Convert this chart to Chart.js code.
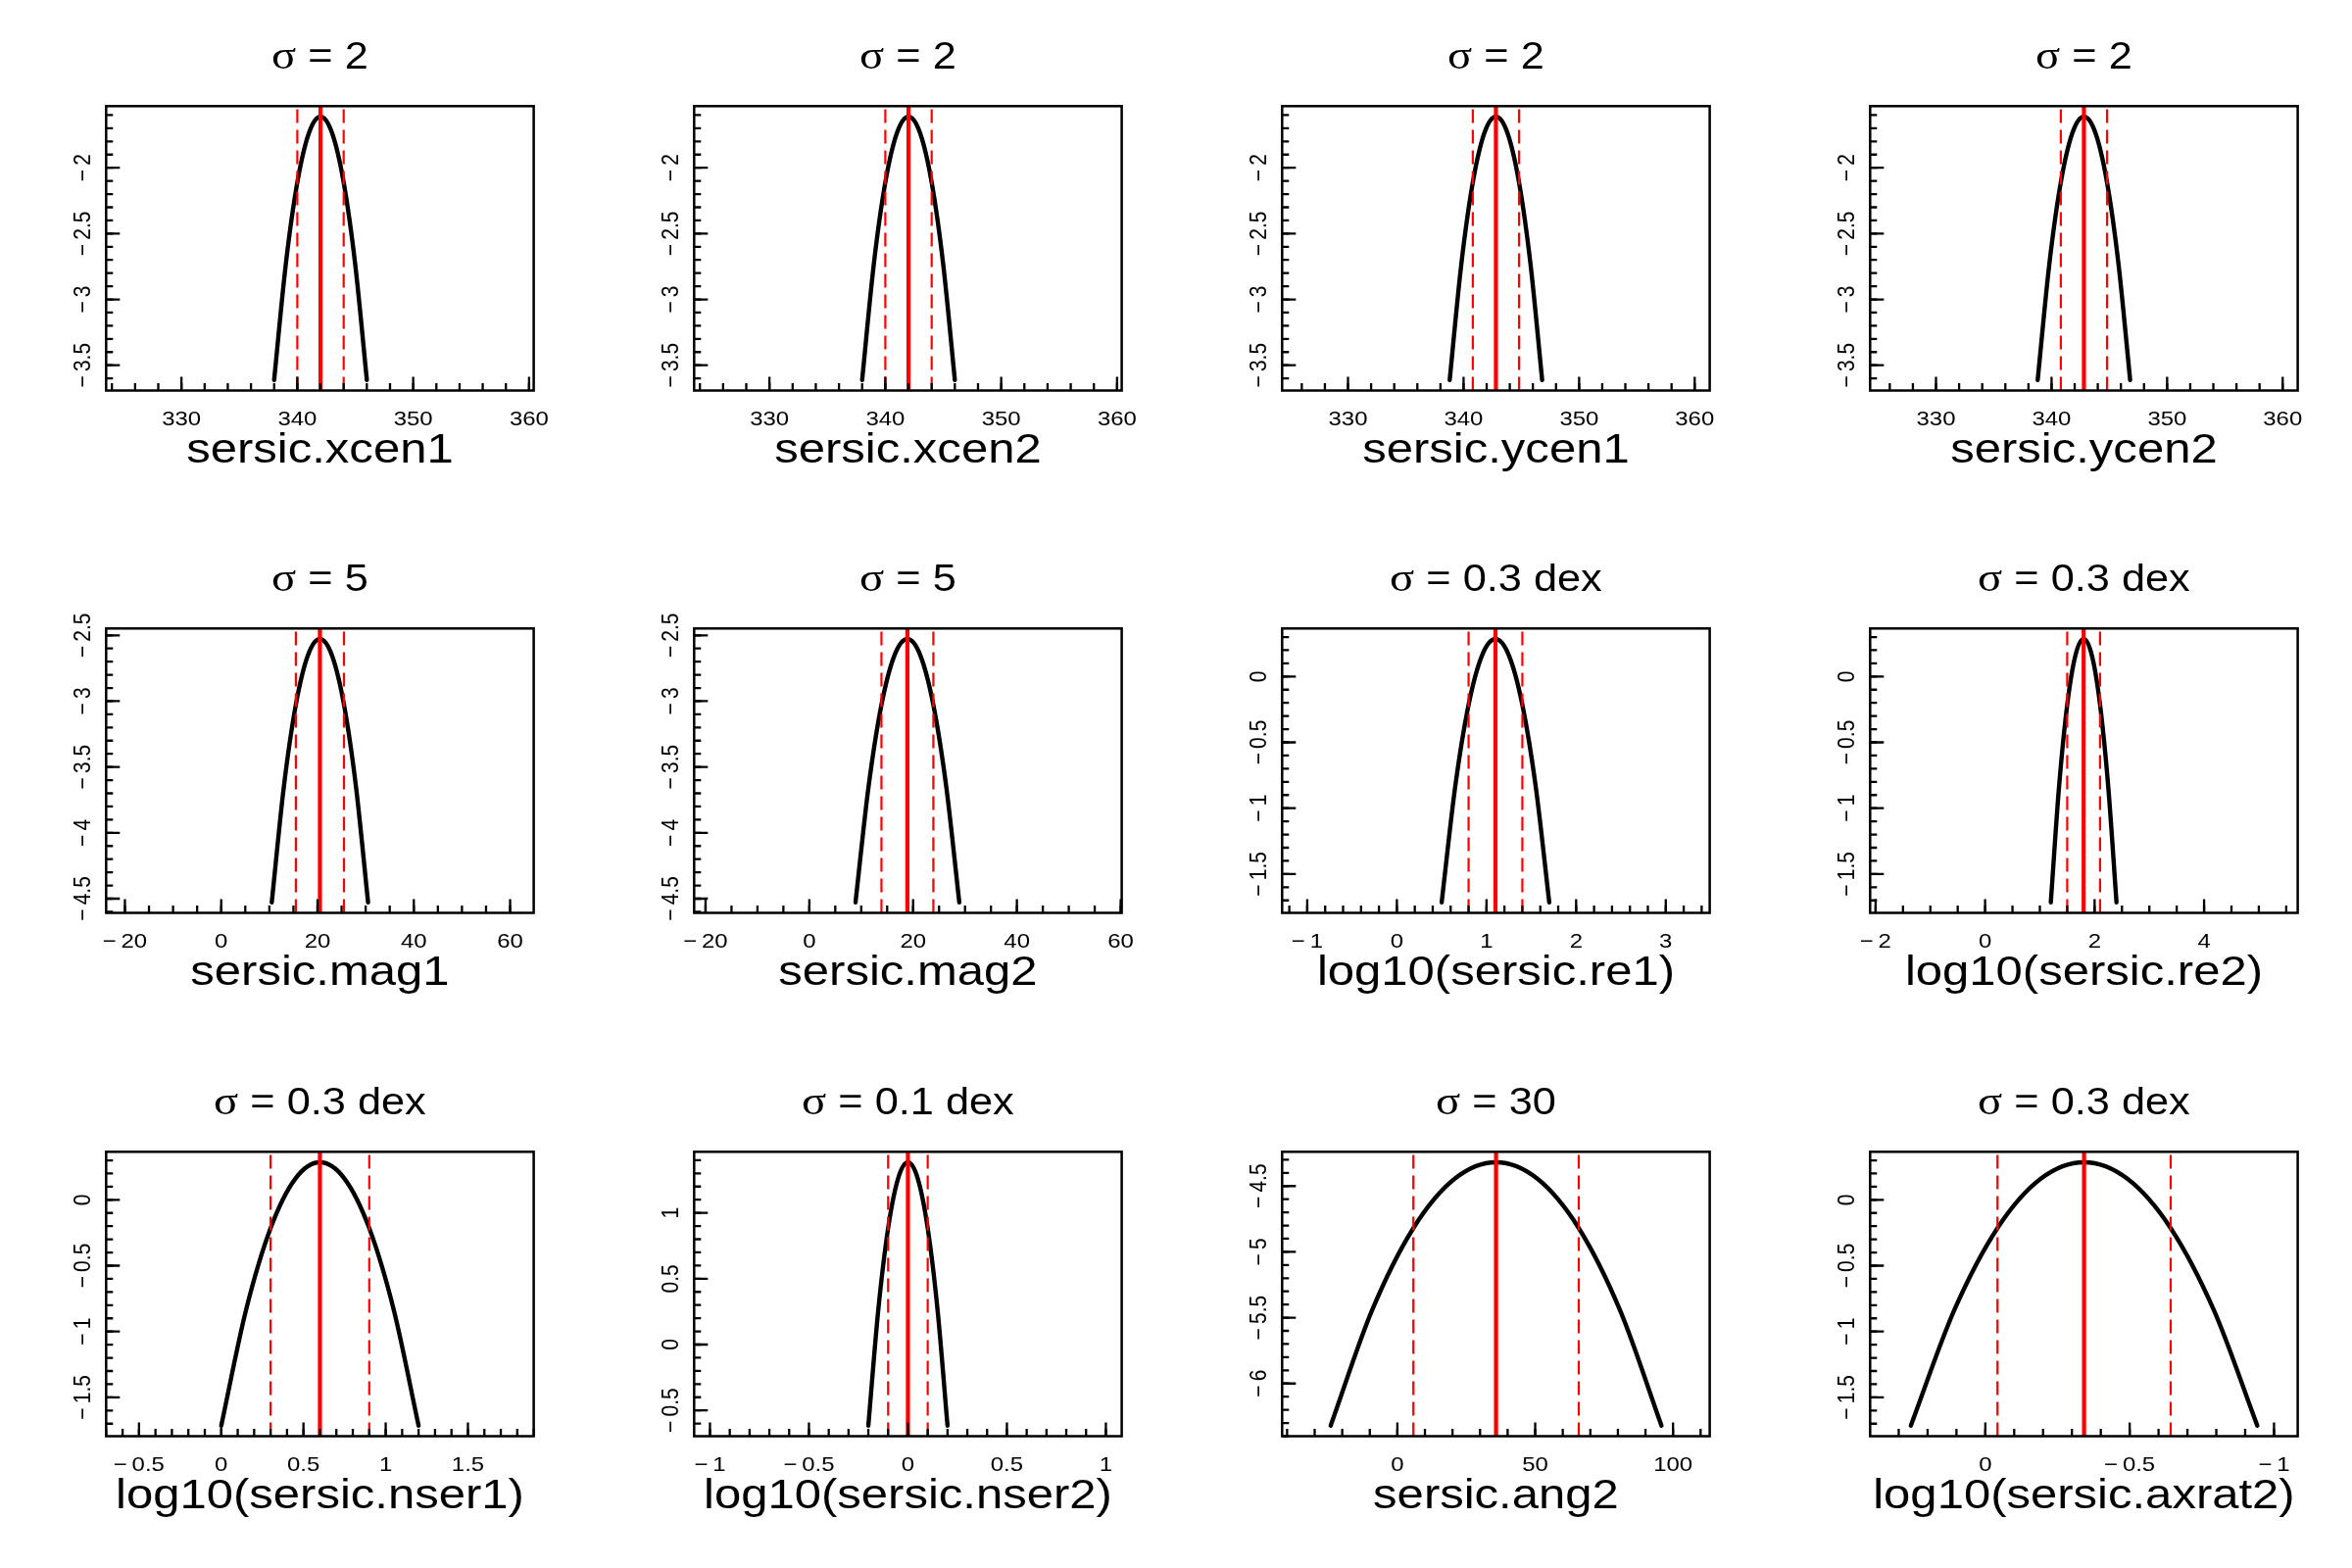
<!DOCTYPE html>
<html>
<head>
<meta charset="utf-8">
<script src="https://cdn.jsdelivr.net/npm/chart.js@4.4.1/dist/chart.umd.min.js"></script>
<style>
  html, body { margin: 0; padding: 0; background: #ffffff; }
  #wrap { position: relative; width: 2400px; height: 1600px; background: #ffffff; overflow: hidden; }
  #wrap canvas { position: absolute; }
</style>
</head>
<body>
<div id="wrap"></div>
<script>
// ---------------- DATA ----------------
const paramNames = ['sersic.xcen1', 'sersic.xcen2', 'sersic.ycen1', 'sersic.ycen2',
                    'sersic.mag1', 'sersic.mag2', 'log10(sersic.re1)', 'log10(sersic.re2)',
                    'log10(sersic.nser1)', 'log10(sersic.nser2)', 'sersic.ang2', 'log10(sersic.axrat2)'];
const sigmaLabels = ['2', '2', '2', '2', '5', '5', '0.3 dex', '0.3 dex', '0.3 dex', '0.1 dex', '30', '0.3 dex'];

// prior mean (solid red) and mean -/+ sigma (dashed red)
const priorMeans = [342, 342, 342.8, 342.8, 20.5, 18.9, 1.1, 1.8, 0.6, 0, 35.8, -0.342];
const lowerSigma = [340, 340, 340.8, 340.8, 15.5, 13.9, 0.8, 1.5, 0.3, -0.1, 5.8, -0.042];
const upperSigma = [344, 344, 344.8, 344.8, 25.5, 23.9, 1.4, 2.1, 0.9, 0.1, 65.8, -0.642];

// log prior curves (x, y)
const xcen1X = [338, 339, 340, 341, 342, 343, 344, 345, 346];
const xcen1Y = [-3.612, -2.737, -2.112, -1.737, -1.612, -1.737, -2.112, -2.737, -3.612];
const xcen2X = [338, 339, 340, 341, 342, 343, 344, 345, 346];
const xcen2Y = [-3.612, -2.737, -2.112, -1.737, -1.612, -1.737, -2.112, -2.737, -3.612];
const ycen1X = [338.8, 339.8, 340.8, 341.8, 342.8, 343.8, 344.8, 345.8, 346.8];
const ycen1Y = [-3.612, -2.737, -2.112, -1.737, -1.612, -1.737, -2.112, -2.737, -3.612];
const ycen2X = [338.8, 339.8, 340.8, 341.8, 342.8, 343.8, 344.8, 345.8, 346.8];
const ycen2Y = [-3.612, -2.737, -2.112, -1.737, -1.612, -1.737, -2.112, -2.737, -3.612];
const mag1X = [10.5, 13, 15.5, 18, 20.5, 23, 25.5, 28, 30.5];
const mag1Y = [-4.528, -3.653, -3.028, -2.653, -2.528, -2.653, -3.028, -3.653, -4.528];
const mag2X = [8.9, 11.4, 13.9, 16.4, 18.9, 21.4, 23.9, 26.4, 28.9];
const mag2Y = [-4.528, -3.653, -3.028, -2.653, -2.528, -2.653, -3.028, -3.653, -4.528];
const re1X = [0.5, 0.65, 0.8, 0.95, 1.1, 1.25, 1.4, 1.55, 1.7];
const re1Y = [-1.715, -0.840, -0.215, 0.160, 0.285, 0.160, -0.215, -0.840, -1.715];
const re2X = [1.2, 1.35, 1.5, 1.65, 1.8, 1.95, 2.1, 2.25, 2.4];
const re2Y = [-1.715, -0.840, -0.215, 0.160, 0.285, 0.160, -0.215, -0.840, -1.715];
const nser1X = [0, 0.15, 0.3, 0.45, 0.6, 0.75, 0.9, 1.05, 1.2];
const nser1Y = [-1.715, -0.840, -0.215, 0.160, 0.285, 0.160, -0.215, -0.840, -1.715];
const nser2X = [-0.2, -0.15, -0.1, -0.05, 0, 0.05, 0.1, 0.15, 0.2];
const nser2Y = [-0.616, 0.259, 0.884, 1.259, 1.384, 1.259, 0.884, 0.259, -0.616];
const ang2X = [-24.2, -9.2, 5.8, 20.8, 35.8, 50.8, 65.8, 80.8, 95.8];
const ang2Y = [-6.320, -5.445, -4.820, -4.445, -4.320, -4.445, -4.820, -5.445, -6.320];
const axrat2X = [0.258, 0.108, -0.042, -0.192, -0.342, -0.492, -0.642, -0.792, -0.942];
const axrat2Y = [-1.715, -0.840, -0.215, 0.160, 0.285, 0.160, -0.215, -0.840, -1.715];

const curvesX = [xcen1X, xcen2X, ycen1X, ycen2X, mag1X, mag2X, re1X, re2X, nser1X, nser2X, ang2X, axrat2X];
const curvesY = [xcen1Y, xcen2Y, ycen1Y, ycen2Y, mag1Y, mag2Y, re1Y, re2Y, nser1Y, nser2Y, ang2Y, axrat2Y];

// axis ranges
const xMinVals = [323.5, 323.5, 324.3, 324.3, -23.9, -22.2, -1.28, -2.1, -0.7, -1.08, -41.8, -1.082];
const xMaxVals = [360.4, 360.4, 361.3, 361.3, 64.9, 60.2, 3.49, 5.71, 1.9, 1.08, 113.3, 0.399];
const xReversed = [false, false, false, false, false, false, false, false, false, false, false, true];
const yMinVals = [-3.692, -3.692, -3.692, -3.692, -4.608, -4.608, -1.795, -1.795, -1.795, -0.696, -6.400, -1.795];
const yMaxVals = [-1.532, -1.532, -1.532, -1.532, -2.448, -2.448, 0.365, 0.365, 0.365, 1.464, -4.240, 0.365];

// major tick values (labels) and minor tick steps
const xTickVals = [
  [330, 340, 350, 360], [330, 340, 350, 360], [330, 340, 350, 360], [330, 340, 350, 360],
  [-20, 0, 20, 40, 60], [-20, 0, 20, 40, 60], [-1, 0, 1, 2, 3], [-2, 0, 2, 4],
  [-0.5, 0, 0.5, 1, 1.5], [-1, -0.5, 0, 0.5, 1], [0, 50, 100], [0, -0.5, -1]
];
const yTickVals = [
  [-3.5, -3, -2.5, -2], [-3.5, -3, -2.5, -2], [-3.5, -3, -2.5, -2], [-3.5, -3, -2.5, -2],
  [-4.5, -4, -3.5, -3, -2.5], [-4.5, -4, -3.5, -3, -2.5], [-1.5, -1, -0.5, 0], [-1.5, -1, -0.5, 0],
  [-1.5, -1, -0.5, 0], [-0.5, 0, 0.5, 1], [-6, -5.5, -5, -4.5], [-1.5, -1, -0.5, 0]
];
const xMinorStep = [2, 2, 2, 2, 5, 5, 0.2, 0.5, 0.1, 0.1, 10, 0.1];
const yMinorStep = [0.1, 0.1, 0.1, 0.1, 0.1, 0.1, 0.1, 0.1, 0.1, 0.1, 0.1, 0.1];

// ---------------- STYLE ----------------
const SX = 1.14;                 // horizontal glyph stretch of the reference
const SANS = '"Liberation Sans", Arial, Helvetica, sans-serif';
const SERIF = '"Liberation Serif", "Times New Roman", serif';
const RED = '#ff0000';
const BLACK = '#000000';

function fmt(v) {
  const s = String(v);
  return s.charAt(0) === '-' ? '\u2212\u2009' + s.slice(1) : s;
}

function minorValues(min, max, step) {
  const lo = Math.min(min, max), hi = Math.max(min, max);
  const out = [];
  const k0 = Math.ceil(lo / step - 1e-9), k1 = Math.floor(hi / step + 1e-9);
  for (let k = k0; k <= k1; k++) out.push(+(k * step).toFixed(6));
  return out;
}

function drawStretched(ctx, txt, x, y, align) {
  const w = ctx.measureText(txt).width * SX;
  const x0 = align === 'center' ? x - w / 2 : (align === 'right' ? x - w : x);
  ctx.save();
  ctx.translate(x0, y);
  ctx.scale(SX, 1);
  ctx.textAlign = 'left';
  ctx.fillText(txt, 0, 0);
  ctx.restore();
}

const decorPlugin = {
  id: 'decor',
  afterDatasetsDraw(chart) {
    const i = chart.options.plugins.decor.panel;
    const ctx = chart.ctx;
    const a = chart.chartArea;
    const xs = chart.scales.x, ys = chart.scales.y;
    ctx.save();
    ctx.strokeStyle = BLACK;
    ctx.lineCap = 'butt';
    // inward ticks: minor
    ctx.lineWidth = 2.3;
    ctx.beginPath();
    minorValues(xs.min, xs.max, xMinorStep[i]).forEach(v => {
      const px = xs.getPixelForValue(v);
      ctx.moveTo(px, a.bottom); ctx.lineTo(px, a.bottom - 7.5);
    });
    minorValues(ys.min, ys.max, yMinorStep[i]).forEach(v => {
      const py = ys.getPixelForValue(v);
      ctx.moveTo(a.left, py); ctx.lineTo(a.left + 7, py);
    });
    ctx.stroke();
    // inward ticks: major (from the scales' own ticks)
    ctx.beginPath();
    xs.ticks.forEach(t => {
      const px = xs.getPixelForValue(t.value);
      ctx.moveTo(px, a.bottom); ctx.lineTo(px, a.bottom - 14);
    });
    ys.ticks.forEach(t => {
      const py = ys.getPixelForValue(t.value);
      ctx.moveTo(a.left, py); ctx.lineTo(a.left + 14, py);
    });
    ctx.stroke();
    // box
    ctx.lineWidth = 2.5;
    ctx.strokeRect(a.left, a.top, a.right - a.left, a.bottom - a.top);
    ctx.restore();
  },
  afterDraw(chart) {
    const i = chart.options.plugins.decor.panel;
    const ctx = chart.ctx;
    const a = chart.chartArea;
    const xs = chart.scales.x, ys = chart.scales.y;
    const cx = (a.left + a.right) / 2;
    ctx.save();
    ctx.fillStyle = BLACK;
    ctx.textBaseline = 'alphabetic';

    // x tick labels
    ctx.font = '21px ' + SANS;
    xs.ticks.forEach(t => {
      drawStretched(ctx, fmt(t.value), xs.getPixelForValue(t.value), a.bottom + 35, 'center');
    });
    // y tick labels (rotated, reading upwards)
    ys.ticks.forEach(t => {
      const py = ys.getPixelForValue(t.value);
      ctx.save();
      ctx.translate(a.left - 16.5, py);
      ctx.scale(SX, 1);
      ctx.rotate(-Math.PI / 2);
      ctx.textAlign = 'center';
      ctx.fillText(fmt(t.value), 0, 0);
      ctx.restore();
    });

    // axis label
    ctx.font = '43px ' + SANS;
    drawStretched(ctx, paramNames[i], cx, a.bottom + 73, 'center');

    // title: sigma = ...
    const sig = '\u03C3';
    const rest = ' = ' + sigmaLabels[i];
    ctx.font = '41px ' + SERIF;
    const wSig = ctx.measureText(sig).width * SX;
    ctx.font = '38px ' + SANS;
    const wRest = ctx.measureText(rest).width * SX;
    const x0 = cx - (wSig + wRest) / 2;
    const by = a.top - 38.5;
    ctx.font = '41px ' + SERIF;
    drawStretched(ctx, sig, x0, by, 'left');
    ctx.font = '38px ' + SANS;
    drawStretched(ctx, rest, x0 + wSig, by, 'left');
    ctx.restore();
  }
};

const wrap = document.getElementById('wrap');
const rowTops = [0, 533, 1067];

function makePanel(i) {
  const canvas = document.createElement('canvas');
  canvas.width = 600;
  canvas.height = 533;
  canvas.style.width = '600px';
  canvas.style.height = '533px';
  canvas.style.left = ((i % 4) * 600) + 'px';
  canvas.style.top = rowTops[Math.floor(i / 4)] + 'px';
  wrap.appendChild(canvas);

  const curve = curvesX[i].map((x, k) => ({ x: x, y: curvesY[i][k] }));
  const vline = (x) => [{ x: x, y: yMinVals[i] }, { x: x, y: yMaxVals[i] }];

  new Chart(canvas, {
    type: 'scatter',
    data: {
      datasets: [
        { data: vline(priorMeans[i]), showLine: true, borderColor: RED, borderWidth: 4.2,
          pointRadius: 0, pointHoverRadius: 0, fill: false },
        { data: vline(lowerSigma[i]), showLine: true, borderColor: RED, borderWidth: 2.2,
          borderDash: [14, 7], pointRadius: 0, pointHoverRadius: 0, fill: false },
        { data: vline(upperSigma[i]), showLine: true, borderColor: RED, borderWidth: 2.2,
          borderDash: [14, 7], pointRadius: 0, pointHoverRadius: 0, fill: false },
        { data: curve, showLine: true, borderColor: BLACK, borderWidth: 4.4,
          borderCapStyle: 'round', borderJoinStyle: 'round',
          cubicInterpolationMode: 'monotone', tension: 0.4,
          pointRadius: 0, pointHoverRadius: 0, fill: false }
      ]
    },
    options: {
      responsive: false,
      animation: false,
      devicePixelRatio: 1,
      events: [],
      layout: { padding: { left: 48.3, right: 55.4, top: 108.3, bottom: 34.5 } },
      plugins: {
        legend: { display: false },
        tooltip: { enabled: false },
        title: { display: false },
        decor: { panel: i }
      },
      scales: {
        x: {
          type: 'linear', position: 'bottom', bounds: 'data',
          min: xMinVals[i], max: xMaxVals[i], reverse: xReversed[i],
          grid: { display: false }, border: { display: false },
          ticks: { display: false },
          afterBuildTicks: (s) => { s.ticks = xTickVals[i].map(v => ({ value: v })); },
          afterFit: (s) => { s.height = 100; }
        },
        y: {
          type: 'linear', position: 'left', bounds: 'data',
          min: yMinVals[i], max: yMaxVals[i],
          grid: { display: false }, border: { display: false },
          ticks: { display: false },
          afterBuildTicks: (s) => { s.ticks = yTickVals[i].map(v => ({ value: v })); },
          afterFit: (s) => { s.width = 60; }
        }
      }
    },
    plugins: [decorPlugin]
  });
}

for (let i = 0; i < 12; i++) makePanel(i);
</script>
</body>
</html>
